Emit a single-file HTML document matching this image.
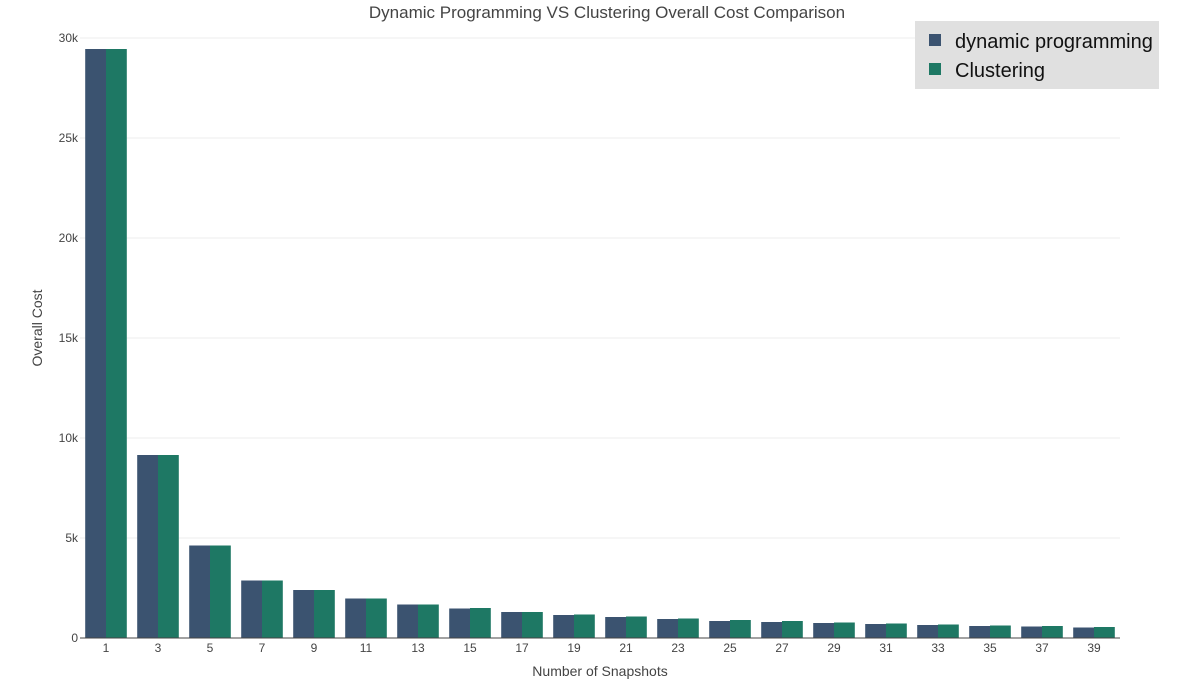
<!DOCTYPE html>
<html><head><meta charset="utf-8"><style>
body{margin:0;background:#fff;font-family:"Liberation Sans",sans-serif;}
svg text{font-family:"Liberation Sans",sans-serif;}
</style></head><body>
<svg id="chart" width="1200" height="680">
<text x="607" y="18" text-anchor="middle" font-size="17" fill="#444">Dynamic Programming VS Clustering Overall Cost Comparison</text>
<g id="grid"></g><g id="bars"></g><g id="xticks"></g><g id="yticks"></g>
<line x1="80" y1="638" x2="1120" y2="638" stroke="#444" stroke-width="1"/>
<text x="600" y="676" text-anchor="middle" font-size="14" fill="#444">Number of Snapshots</text>
<text transform="translate(42,328) rotate(-90)" text-anchor="middle" font-size="14" fill="#444">Overall Cost</text>
<g>
<rect x="915" y="21" width="244" height="68" fill="#e0e0e0"/>
<g><rect x="929" y="34" width="12" height="12" fill="#3b5370"/><text x="955" y="48" font-size="20" fill="#111">dynamic programming</text></g>
<g><rect x="929" y="63" width="12" height="12" fill="#1e7864"/><text x="955" y="77" font-size="20" fill="#111">Clustering</text></g>
</g>
</svg>
<script>
const categories=[1,3,5,7,9,11,13,15,17,19,21,23,25,27,29,31,33,35,37,39];
const dpValues=[29450,9150,4625,2875,2400,1975,1675,1475,1300,1150,1050,950,850,800,750,700,650,600,575,525];
const clValues=[29450,9150,4625,2875,2400,1975,1675,1500,1300,1175,1075,975,900,850,775,725,675,625,600,550];
const yTicks=[0,5000,10000,15000,20000,25000,30000];
const yTickLabels=["0","5k","10k","15k","20k","25k","30k"];
const NS="http://www.w3.org/2000/svg";
const x0=80,x1=1120,yb=638,yt=38,yMax=30000;
const band=(x1-x0)/categories.length;
const xScale=i=>x0+band*i;
const yScale=v=>yb-(v/yMax)*(yb-yt);
function mk(tag,attrs,parent){const e=document.createElementNS(NS,tag);for(const k in attrs)e.setAttribute(k,attrs[k]);parent.appendChild(e);return e;}
const grid=document.getElementById('grid'),yt_g=document.getElementById('yticks');
yTicks.forEach((v,i)=>{
 if(v>0){const l=mk('line',{x1:x0,x2:x1,y1:yScale(v),y2:yScale(v),stroke:'#eee'},grid);
 
 }
 const t=mk('text',{x:x0-2,y:yScale(v)+4,'text-anchor':'end','font-size':12,fill:'#444'},yt_g);
 t.textContent=yTickLabels[i];
 
 
});
const bars=document.getElementById('bars'),xt=document.getElementById('xticks');
const bw=band*0.4;
categories.forEach((c,i)=>{
 const cx=xScale(i)+band/2;
 const a=mk('rect',{x:cx-bw,y:yScale(dpValues[i]),width:bw,height:yb-yScale(dpValues[i]),fill:'#3b5370'},bars);
 
 
 const b=mk('rect',{x:cx,y:yScale(clValues[i]),width:bw,height:yb-yScale(clValues[i]),fill:'#1e7864'},bars);
 
 
 const t=mk('text',{x:cx,y:652,'text-anchor':'middle','font-size':12,fill:'#444'},xt);
 t.textContent=c;
 
 
});
</script>
</body></html>
